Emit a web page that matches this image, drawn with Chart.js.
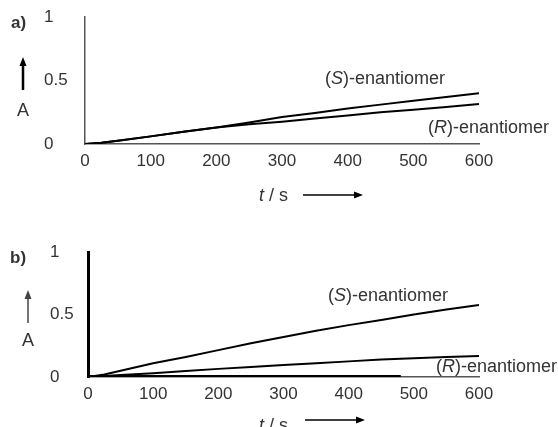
<!DOCTYPE html>
<html>
<head>
<meta charset="utf-8">
<script src="https://cdn.jsdelivr.net/npm/chart.js@4/dist/chart.umd.min.js"></script>
<style>
  html, body { margin:0; padding:0; background:#fff; width:558px; height:427px; overflow:hidden; }
  canvas { position:absolute; left:0; display:block; }
  #ca { top:0; }
  #cb { top:210px; }
</style>
</head>
<body>
<canvas id="ca" width="558" height="210"></canvas>
<canvas id="cb" width="558" height="217"></canvas>
<script>
// ---- data ----
const timesA = [0, 25, 50, 100, 150, 200, 250, 300, 350, 400, 450, 500, 550, 600];
const aS     = [0, 0.01, 0.025, 0.06, 0.097, 0.13, 0.17, 0.212, 0.245, 0.28, 0.31, 0.34, 0.37, 0.40];
const aR     = [0, 0.01, 0.025, 0.06, 0.097, 0.13, 0.155, 0.175, 0.2, 0.225, 0.25, 0.27, 0.292, 0.315];

const timesB = [0, 25, 50, 100, 150, 200, 250, 300, 350, 400, 450, 500, 550, 600];
const bS     = [0, 0.02, 0.05, 0.11, 0.16, 0.215, 0.27, 0.32, 0.37, 0.415, 0.456, 0.5, 0.54, 0.576];
const bR     = [0, 0.008, 0.016, 0.03, 0.048, 0.065, 0.08, 0.096, 0.11, 0.125, 0.14, 0.15, 0.16, 0.168];
const timesBase = [0, 100, 200, 300, 400, 480];
const bBase     = [0.004, 0.004, 0.004, 0.004, 0.004, 0.004];

const xTickLabels = ['0', '100', '200', '300', '400', '500', '600'];
const yTickLabels = ['0', '0.5', '1'];

const FONT = "'Liberation Sans', Arial, Helvetica, sans-serif";
const TXT = '#333';

function pts(xs, ys) { return xs.map((x, i) => ({ x: x, y: ys[i] })); }

function lineDs(xs, ys, w) {
  return { data: pts(xs, ys), borderColor: '#000', borderWidth: w || 2, pointRadius: 0, tension: 0, fill: false };
}

function drawRich(ctx, parts, x, y, size) {
  ctx.save();
  ctx.textBaseline = 'middle';
  ctx.textAlign = 'left';
  ctx.fillStyle = TXT;
  let cx = x;
  parts.forEach(p => {
    ctx.font = (p.b ? 'bold ' : '') + (p.i ? 'italic ' : '') + size + 'px ' + FONT;
    ctx.fillText(p.t, cx, y);
    cx += ctx.measureText(p.t).width;
  });
  ctx.restore();
}

function arrowUp(ctx, x, yBottom, yTop, color, w) {
  ctx.save();
  ctx.strokeStyle = color; ctx.fillStyle = color; ctx.lineWidth = w;
  ctx.beginPath(); ctx.moveTo(x, yBottom); ctx.lineTo(x, yTop + 7); ctx.stroke();
  ctx.beginPath(); ctx.moveTo(x, yTop); ctx.lineTo(x - 3.5, yTop + 9); ctx.lineTo(x + 3.5, yTop + 9); ctx.closePath(); ctx.fill();
  ctx.restore();
}
function arrowRight(ctx, xLeft, xRight, y, color, w) {
  ctx.save();
  ctx.strokeStyle = color; ctx.fillStyle = color; ctx.lineWidth = w;
  ctx.beginPath(); ctx.moveTo(xLeft, y); ctx.lineTo(xRight - 7, y); ctx.stroke();
  ctx.beginPath(); ctx.moveTo(xRight, y); ctx.lineTo(xRight - 9, y - 3.5); ctx.lineTo(xRight - 9, y + 3.5); ctx.closePath(); ctx.fill();
  ctx.restore();
}

function makeAnnot(spec) {
  return {
    id: 'annot' + spec.id,
    afterDraw(chart) {
      const ctx = chart.ctx;
      drawRich(ctx, [{ t: spec.id + ')', b: true }], spec.lab[0], spec.lab[1], 17);
      arrowUp(ctx, spec.ya[0], spec.ya[1], spec.ya[2], spec.yaColor, spec.yaW);
      drawRich(ctx, [{ t: 'A' }], spec.A[0], spec.A[1], 18);
      drawRich(ctx, [{ t: 't', i: true }, { t: ' / s' }], spec.t[0], spec.t[1], 18);
      arrowRight(ctx, spec.xa[0], spec.xa[1], spec.xa[2], '#000', 1.5);
      drawRich(ctx, [{ t: '(' }, { t: 'S', i: true }, { t: ')-enantiomer' }], spec.S[0], spec.S[1], 18);
      drawRich(ctx, [{ t: '(' }, { t: 'R', i: true }, { t: ')-enantiomer' }], spec.R[0], spec.R[1], 18);
    }
  };
}

function opts(padLeft, padTop, yWidth, xHeight, yBorder) {
  return {
    responsive: false,
    animation: false,
    devicePixelRatio: 1,
    layout: { padding: { left: padLeft, right: 79, top: padTop, bottom: 0 } },
    plugins: { legend: { display: false }, tooltip: { enabled: false } },
    scales: {
      x: {
        type: 'linear', min: 0, max: 600,
        afterFit: s => { s.height = xHeight; },
        afterBuildTicks: s => { s.ticks = xTickLabels.map(v => ({ value: Number(v) })); },
        ticks: { padding: 7, color: TXT, font: { family: FONT, size: 17 }, maxRotation: 0,
                 callback: (v) => xTickLabels.find(l => Number(l) === v) },
        grid: { display: false, drawTicks: false, tickLength: 0 },
        border: { display: true, color: '#555', width: 1.5 }
      },
      y: {
        type: 'linear', min: 0, max: 1,
        afterFit: s => { s.width = yWidth; },
        afterBuildTicks: s => { s.ticks = yTickLabels.map(v => ({ value: Number(v) })); },
        ticks: { crossAlign: 'far', padding: 0, color: TXT, font: { family: FONT, size: 17 },
                 callback: (v) => yTickLabels.find(l => Number(l) === v) },
        grid: { display: false, drawTicks: false, tickLength: 0 },
        border: yBorder
      }
    }
  };
}

new Chart(document.getElementById('ca'), {
  type: 'line',
  data: { datasets: [lineDs(timesA, aS), lineDs(timesA, aR)] },
  options: opts(44, 17, 41, 66, { display: true, color: '#555', width: 1.5 }),
  plugins: [makeAnnot({
    id: 'a', lab: [11, 23], ya: [23, 90, 57], yaColor: '#000', yaW: 2.5, A: [17, 111],
    t: [259, 196], xa: [303, 363, 195], S: [325, 79], R: [428, 128]
  })]
});

new Chart(document.getElementById('cb'), {
  type: 'line',
  data: { datasets: [lineDs(timesB, bS), lineDs(timesB, bR), lineDs(timesBase, bBase, 3)] },
  options: opts(50, 42, 38, 50, { display: true, color: '#000', width: 3 }),
  plugins: [makeAnnot({
    id: 'b', lab: [10, 48], ya: [28, 113, 80], yaColor: '#444', yaW: 1.5, A: [22, 131],
    t: [259, 216], xa: [305, 365, 210], S: [328, 86], R: [436, 157]
  })]
});
</script>
</body>
</html>
